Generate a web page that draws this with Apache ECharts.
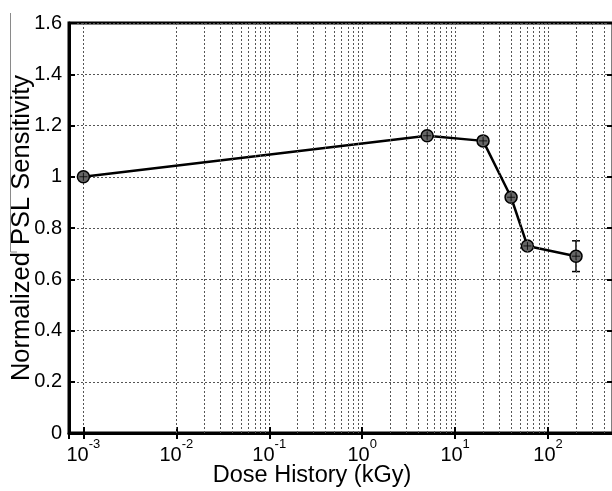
<!DOCTYPE html>
<html>
<head>
<meta charset="utf-8">
<script src="https://cdn.jsdelivr.net/npm/echarts@6/dist/echarts.min.js"></script>
<style>
  html, body { margin: 0; padding: 0; background: #fff; }
  #chart { width: 612px; height: 491px; }
</style>
</head>
<body>
<div id="chart"></div>
<script>
// data
var doses = [0.001, 5, 20, 40, 60, 200];          // kGy
var sensitivity = [1.0, 1.16, 1.14, 0.92, 0.73, 0.69];
var errors = [0, 0, 0, 0, 0, 0.06];
var yTicks = [0, 0.2, 0.4, 0.6, 0.8, 1, 1.2, 1.4, 1.6];
var xRange = [7e-4, 500];

var FONT = 'Liberation Sans, Arial, sans-serif';
var dotted = { type: [2, 2], color: '#555', width: 1 };

var points = doses.map(function (d, i) { return [d, sensitivity[i]]; });
var errData = [];
doses.forEach(function (d, i) {
    if (errors[i] > 0) errData.push([d, sensitivity[i] - errors[i], sensitivity[i] + errors[i]]);
});

// minor log gridlines (2..9 x 10^k)
var minorLines = [];
for (var k = -4; k <= 2; k++) {
    for (var m = 2; m <= 9; m++) {
        var v = m * Math.pow(10, k);
        if (v > xRange[0] * 1.001 && v < xRange[1] * 0.999) minorLines.push({ xAxis: v });
    }
}

function expLabel(v) {
    var e = Math.log10(v);
    if (Math.abs(e - Math.round(e)) > 0.01) return '';
    return '{b|10}{s|' + Math.round(e) + '}';
}

var myChart = echarts.init(document.getElementById('chart'));
var option = {
    animation: false,
    textStyle: { fontFamily: FONT },
    grid: {
        left: 69, top: 23, width: 544, height: 410, show: true, borderColor: '#000', borderWidth: 3,
        containLabel: false, outerBoundsMode: 'none'
    },
    xAxis: [
        {
            type: 'log', logBase: 10, min: xRange[0], max: xRange[1],
            name: 'Dose History (kGy)', nameLocation: 'middle', nameGap: 31, nameMoveOverlap: false,
            nameTextStyle: { fontSize: 23.5, color: '#000', fontFamily: FONT, padding: [0, 58, 0, 0] },
            axisLine: { show: true, lineStyle: { color: '#000', width: 3 } },
            axisTick: { show: true, inside: true, length: 6, lineStyle: { color: '#000', width: 2 } },
            axisLabel: {
                formatter: expLabel, showMinLabel: false, showMaxLabel: false, margin: 5,
                color: '#000',
                rich: {
                    b: { fontSize: 20, fontFamily: FONT, color: '#000', padding: [7, 0, 0, 0] },
                    s: { fontSize: 13, fontFamily: FONT, color: '#000', verticalAlign: 'top' }
                }
            },
            splitLine: { show: true, lineStyle: dotted }
        },
        {
            type: 'log', logBase: 10, min: xRange[0], max: xRange[1], position: 'top',
            axisLine: { show: false },
            axisTick: { show: true, inside: true, length: 6, lineStyle: { color: '#000', width: 2 } },
            axisLabel: { show: false },
            splitLine: { show: false }
        }
    ],
    yAxis: [
        {
            type: 'value', min: yTicks[0], max: yTicks[yTicks.length - 1], interval: 0.2,
            name: 'Normalized PSL Sensitivity', nameLocation: 'middle', nameRotate: 90, nameGap: 34,
            nameMoveOverlap: false,
            nameTextStyle: { fontSize: 25.5, color: '#000', fontFamily: FONT },
            axisLine: { show: true, lineStyle: { color: '#000', width: 3 } },
            axisTick: { show: true, inside: true, length: 6, lineStyle: { color: '#000', width: 2 } },
            axisLabel: { fontSize: 20, color: '#000', margin: 7, fontFamily: FONT },
            splitLine: { show: true, lineStyle: dotted }
        },
        {
            type: 'value', min: yTicks[0], max: yTicks[yTicks.length - 1], interval: 0.2, position: 'right',
            axisLine: { show: false },
            axisTick: { show: true, inside: true, length: 6, lineStyle: { color: '#000', width: 2 } },
            axisLabel: { show: false },
            splitLine: { show: false }
        }
    ],
    series: [
        {
            // minor gridlines only
            type: 'line', data: [], silent: true,
            markLine: {
                silent: true, symbol: ['none', 'none'], label: { show: false },
                lineStyle: dotted, data: minorLines, animation: false
            }
        },
        {
            name: 'PSL', type: 'line', data: points, z: 4,
            lineStyle: { color: '#000', width: 2.5 },
            symbol: 'circle', symbolSize: 12,
            itemStyle: { color: '#666', borderColor: '#000', borderWidth: 1.5 }
        },
        {
            type: 'scatter', data: points, z: 5, silent: true,
            symbol: 'path://M0,5L10,5M5,0L5,10', symbolSize: 8,
            itemStyle: { color: 'none', borderColor: '#000', borderWidth: 1 }
        },
        {
            type: 'custom', data: errData, z: 4, silent: true,
            encode: { x: 0, y: [1, 2] },
            renderItem: function (params, api) {
                var lo = api.coord([api.value(0), api.value(1)]);
                var hi = api.coord([api.value(0), api.value(2)]);
                var w = 4;
                var st = { stroke: '#000', lineWidth: 1.5 };
                return {
                    type: 'group',
                    children: [
                        { type: 'line', shape: { x1: lo[0], y1: lo[1], x2: hi[0], y2: hi[1] }, style: st },
                        { type: 'line', shape: { x1: lo[0] - w, y1: lo[1], x2: lo[0] + w, y2: lo[1] }, style: st },
                        { type: 'line', shape: { x1: hi[0] - w, y1: hi[1], x2: hi[0] + w, y2: hi[1] }, style: st }
                    ]
                };
            }
        }
    ],
    graphic: [
        {
            type: 'polyline', silent: true,
            shape: { points: [[10.5, 13], [10.5, 252], [17, 252]] },
            style: { stroke: '#8a8a8a', lineWidth: 1, fill: null }
        }
    ]
};
myChart.setOption(option);
</script>
</body>
</html>
